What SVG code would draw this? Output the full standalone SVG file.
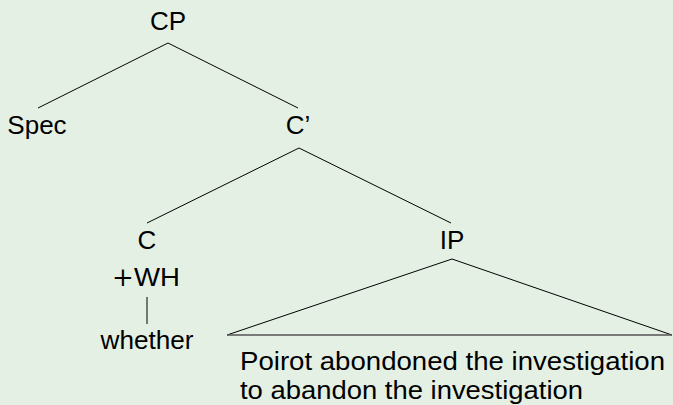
<svg xmlns="http://www.w3.org/2000/svg" width="673" height="405" viewBox="0 0 673 405">
<style>
text{font-family:"Liberation Sans","Arial",sans-serif;font-size:26px;fill:#000}
.c{text-anchor:middle}
#edges line{stroke:#000;stroke-width:1}
</style>
<rect width="673" height="405" fill="#e5f0e5"/>
<g id="edges">
<line x1="168" y1="43" x2="38" y2="108"/>
<line x1="168" y1="43" x2="298" y2="108"/>
<line x1="299" y1="148" x2="147" y2="223"/>
<line x1="299" y1="148" x2="451" y2="223"/>
<line x1="147" y1="297" x2="147" y2="324"/>
<line x1="452" y1="259" x2="227" y2="335"/>
<line x1="452" y1="259" x2="672" y2="335"/>
<line x1="227" y1="335" x2="672" y2="335" style="stroke:#555;stroke-width:1.5"/>
</g>
<g id="CP"><text class="c" x="168" y="30">CP</text></g>
<g id="Spec"><text class="c" x="37" y="134">Spec</text></g>
<g id="Cbar"><text class="c" x="298" y="134">C’</text></g>
<g id="C"><text class="c" x="147" y="249">C</text></g>
<g id="WH"><text x="112" y="286"><tspan style="font-family:'DejaVu Serif',serif;font-weight:200">+</tspan><tspan x="134" textLength="46" lengthAdjust="spacingAndGlyphs">WH</tspan></text></g>
<g id="whether"><text class="c" x="147" y="349" textLength="93" lengthAdjust="spacingAndGlyphs">whether</text></g>
<g id="IP"><text class="c" x="452" y="249">IP</text></g>
<g id="IPtext">
<text x="240" y="370" textLength="425" lengthAdjust="spacingAndGlyphs">Poirot abondoned the investigation</text>
<text x="240" y="399" textLength="343" lengthAdjust="spacingAndGlyphs">to abandon the investigation</text>
</g>
</svg>
